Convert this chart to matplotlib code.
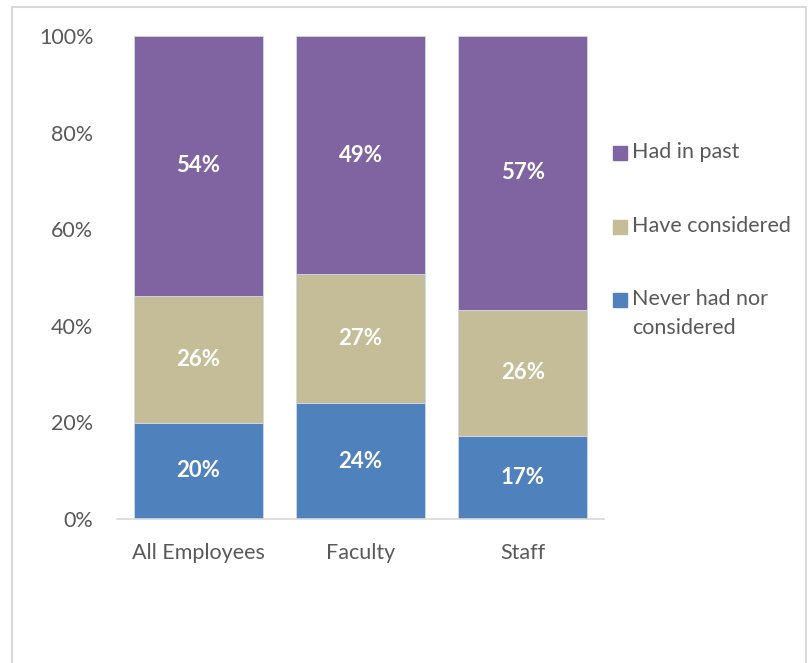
import numpy as np
import matplotlib.pyplot as plt
from matplotlib.patches import Rectangle

plt.rcParams['font.family'] = ['Lato', 'DejaVu Sans']

groups = ["All Employees", "Faculty", "Staff"]
never = [19.9, 24.0, 17.2]
considered = [26.3, 26.7, 26.1]
past = [53.8, 49.3, 56.7]
series_names = ["Never had nor\nconsidered", "Have considered", "Had in past"]
colors = ["#4F81BD", "#C4BD97", "#8064A2"]

text_gray = "#595959"
W, H = 808, 663

fig = plt.figure(figsize=(W / 100, H / 100), dpi=100)
ax = fig.add_axes([117 / W, 1 - 519 / H, 487 / W, 483 / H])

x = np.arange(len(groups))
bottom = np.zeros(len(groups))
for vals, name, c in zip([never, considered, past], series_names, colors):
    vals = np.array(vals)
    ax.bar(x, vals, width=0.795, bottom=bottom, color=c,
           edgecolor="#d0d8e8", linewidth=0.6, label=name)
    for xi, v, b0 in zip(x, vals, bottom):
        ax.text(xi, b0 + v / 2, f"{round(v):.0f}%", ha="center", va="center",
                color="white", fontsize=16, fontweight="bold")
    bottom += vals

ax.set_xlim(-0.5, 2.5)
ax.set_ylim(0, 100)
ax.set_yticks(range(0, 101, 20))
ax.set_yticklabels([f"{t}%" for t in range(0, 101, 20)])
ax.set_xticks(x)
ax.set_xticklabels(groups)
ax.tick_params(axis="both", length=0, labelsize=15.5, colors=text_gray)
ax.tick_params(axis="y", pad=17)
ax.tick_params(axis="x", pad=17)
for s in ["top", "right", "left"]:
    ax.spines[s].set_visible(False)
ax.spines["bottom"].set_color("#d9d9d9")
ax.spines["bottom"].set_linewidth(1.2)

# legend, top entry first
leg_y = [153, 227, 300]
for yy, name, c in zip(leg_y, series_names[::-1], colors[::-1]):
    fig.patches.append(Rectangle((613 / W, 1 - (yy + 7) / H), 14 / W, 14 / H,
                                 transform=fig.transFigure, color=c))
    fig.text(632 / W, 1 - (yy - 11) / H, name, ha="left", va="top",
             fontsize=15.5, color=text_gray, linespacing=1.55)

# chart area border
fig.patches.append(Rectangle((12 / W, -0.05), 794 / W, 1.05 - 7 / H,
                             transform=fig.transFigure, fill=False,
                             edgecolor="#d9d9d9", linewidth=1.5))

fig.savefig("out.png", dpi=100)
